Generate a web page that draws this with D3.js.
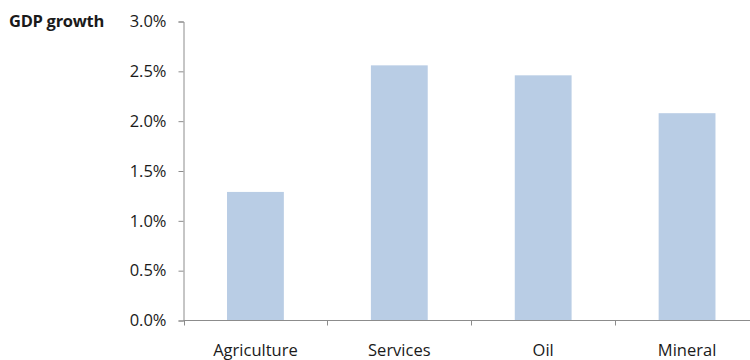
<!DOCTYPE html>
<html>
<head>
<meta charset="utf-8">
<script src="https://cdn.jsdelivr.net/npm/d3@7"></script>
<style>
  html, body { margin: 0; padding: 0; background: #fff; }
  svg { display: block; }
  text { font-family: "Open Sans", "DejaVu Sans", sans-serif; fill: #1a1a1a; }
</style>
</head>
<body>
<svg id="chart" width="750" height="360"></svg>
<script>
// Sector contributions to GDP growth (%)
const categories = ["Agriculture", "Services", "Oil", "Mineral"];
const growth = [1.29, 2.56, 2.46, 2.08];
const yTicks = [0, 0.5, 1.0, 1.5, 2.0, 2.5, 3.0];

const svg = d3.select("#chart");
const plotLeft = 183.5, plotRight = 759, plotTop = 21.5, plotBottom = 320.5;

const x = d3.scaleBand().domain(categories).range([plotLeft, plotRight]).paddingInner(0).paddingOuter(0);
const y = d3.scaleLinear().domain([0, 3]).range([plotBottom, plotTop]);
const barW = x.bandwidth() * 0.395;

// bars
svg.append("g").selectAll("rect")
  .data(categories.map((c, i) => ({ c, v: growth[i] })))
  .join("rect")
  .attr("x", d => x(d.c) + (x.bandwidth() - barW) / 2)
  .attr("y", d => y(d.v))
  .attr("width", barW)
  .attr("height", d => y(0) - y(d.v))
  .attr("fill", "#b9cde5");

// y axis
const yAxis = d3.axisLeft(y).tickValues(yTicks).tickSize(5).tickPadding(12)
  .tickFormat(d => d3.format(".1f")(d) + "%");
const gy = svg.append("g").attr("transform", `translate(${plotLeft},0)`).call(yAxis);
gy.select(".domain").attr("stroke", "#8c8c8c");
gy.selectAll(".tick line").attr("stroke", "#8c8c8c");
gy.selectAll(".tick text").attr("font-size", 16.5).attr("fill", "#1a1a1a").attr("font-family", null);

// x axis with ticks on category boundaries
const gx = svg.append("g").attr("transform", `translate(0,${plotBottom})`);
gx.append("line").attr("x1", plotLeft).attr("x2", plotRight).attr("stroke", "#8c8c8c");
const bounds = categories.map(c => x(c)).concat([plotRight]);
gx.selectAll("line.tk").data(bounds).join("line").attr("class", "tk")
  .attr("x1", d => Math.round(d) + 0.5).attr("x2", d => Math.round(d) + 0.5)
  .attr("y1", 0).attr("y2", 5).attr("stroke", "#8c8c8c");
gx.selectAll("text").data(categories).join("text")
  .attr("x", d => x(d) + x.bandwidth() / 2)
  .attr("y", 35.5)
  .attr("text-anchor", "middle")
  .attr("font-size", 16.5)
  .text(d => d);

// axis title
svg.append("text").attr("x", 9).attr("y", 27)
  .attr("font-size", 16.5).attr("font-weight", "bold")
  .attr("letter-spacing", -0.3)
  .text("GDP growth");
</script>
</body>
</html>
